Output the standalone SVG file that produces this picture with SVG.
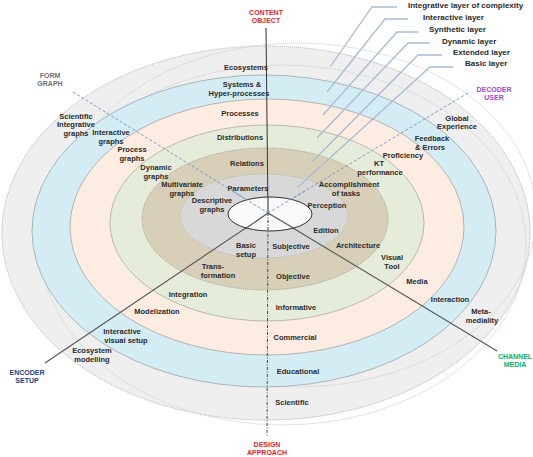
<svg xmlns="http://www.w3.org/2000/svg" width="533" height="457" viewBox="0 0 533 457">
<style>
.lbl{font-family:"Liberation Sans Narrow","Liberation Sans",Arial,sans-serif;font-weight:bold;font-size:7.5px;fill:#2a2a2a;text-anchor:middle}
.lay{font-family:"Liberation Sans Narrow","Liberation Sans",Arial,sans-serif;font-weight:bold;font-size:8px;fill:#2a2a2a;text-anchor:start}
.ax{font-family:"Liberation Sans Narrow","Liberation Sans",Arial,sans-serif;font-weight:bold;font-size:7px;text-anchor:middle}
.faint{fill:none;stroke:#d6d6d6;stroke-width:0.7}
.lead{fill:none;stroke:#a9bcd6;stroke-width:1.3}
.dash{stroke:#6f93c0;stroke-width:0.9;stroke-dasharray:3 2;fill:none}
</style>
<rect width="533" height="457" fill="#ffffff"/>
<g id="rings">
<g id="ring-ecosystems"><ellipse cx="266" cy="233" rx="264" ry="187" fill="#efefef" stroke="#9a9a9a" stroke-width="0.8" stroke-dasharray="1 1"/></g>
<ellipse class="faint" cx="283" cy="245" rx="243" ry="180"/>
<ellipse class="faint" cx="298" cy="215" rx="238" ry="172"/>
<g id="ring-systems"><ellipse cx="264" cy="231" rx="232" ry="156" fill="#d4edf5" stroke="#9aa4a8" stroke-width="0.8"/></g>
<g id="ring-processes"><ellipse cx="267" cy="227" rx="197" ry="128" fill="#fcece2" stroke="#a8a39e" stroke-width="0.8"/></g>
<g id="ring-distributions"><ellipse cx="267" cy="223" rx="157" ry="98" fill="#e6ecda" stroke="#a9ab9e" stroke-width="0.8"/></g>
<g id="ring-relations"><ellipse cx="265" cy="219" rx="123" ry="71" fill="#d8cfb9" stroke="#8f8a7c" stroke-width="0.8" stroke-dasharray="1 1"/></g>
<g id="ring-parameters"><ellipse cx="264" cy="216" rx="84" ry="42" fill="#d8d8d8" stroke="#b4b4b4" stroke-width="0.8" stroke-dasharray="1 1"/></g>
</g>
<g id="connectors">
<line x1="266" y1="28" x2="268" y2="213" stroke="#333" stroke-width="1"/>
<line x1="268" y1="213" x2="267" y2="437" stroke="#333" stroke-width="0.9" stroke-dasharray="3 1.5 1 1.5"/>
<line class="dash" x1="73" y1="92" x2="268" y2="213"/>
<line class="dash" x1="468" y1="93" x2="268" y2="213"/>
<line x1="268" y1="213" x2="45" y2="363" stroke="#555" stroke-width="1.1"/>
<line x1="268" y1="213" x2="497" y2="351" stroke="#555" stroke-width="1.1"/>
<polyline class="lead" points="397,7 372,7 330,67"/>
<polyline class="lead" points="408,19 385,19 327,92"/>
<polyline class="lead" points="418,32 397,32 323,115"/>
<polyline class="lead" points="430,43 408,43 317,138"/>
<polyline class="lead" points="442,55 418,55 312,162"/>
<polyline class="lead" points="453,67 430,67 298,187"/>
</g>
<g id="center"><ellipse cx="270" cy="214" rx="42" ry="17" fill="#ffffff" fill-opacity="0.85" stroke="#333" stroke-width="1"/>
<line x1="268" y1="197" x2="268" y2="213" stroke="#333" stroke-width="1"/>
<line x1="268" y1="213" x2="245" y2="229" stroke="#555" stroke-width="1.1"/>
<line x1="268" y1="213" x2="295" y2="229" stroke="#555" stroke-width="1.1"/>
<line class="dash" x1="232" y1="191" x2="268" y2="213"/>
<line class="dash" x1="268" y1="213" x2="305" y2="191"/>
<line x1="268" y1="213" x2="268" y2="231" stroke="#333" stroke-width="0.9" stroke-dasharray="3 1.5 1 1.5"/>
</g>
<g id="labels-ecosystems">
<text class="lbl" x="246" y="70">Ecosystems</text>
<text class="lbl" x="76" y="119">Scientific</text><text class="lbl" x="76" y="127">Integrative</text><text class="lbl" x="76" y="135.5">graphs</text>
<text class="lbl" x="457" y="120.5">Global</text><text class="lbl" x="457" y="129">Experience</text>
<text class="lbl" x="92" y="353">Ecosystem</text><text class="lbl" x="92" y="361.5">modelling</text>
<text class="lbl" x="481" y="314">Meta-</text><text class="lbl" x="482" y="322.5">mediality</text>
<text class="lbl" x="292" y="405">Scientific</text>
</g>
<g id="labels-systems">
<text class="lbl" x="242" y="87">Systems &amp;</text><text class="lbl" x="239" y="95.5">Hyper-processes</text>
<text class="lbl" x="111" y="135">Interactive</text><text class="lbl" x="111" y="143.5">graphs</text>
<text class="lbl" x="432" y="141">Feedback</text><text class="lbl" x="430" y="149.5">&amp; Errors</text>
<text class="lbl" x="122" y="334">Interactive</text><text class="lbl" x="126" y="342.5">visual setup</text>
<text class="lbl" x="450" y="302">Interaction</text>
<text class="lbl" x="298" y="374">Educational</text>
</g>
<g id="labels-processes">
<text class="lbl" x="240" y="116">Processes</text>
<text class="lbl" x="132" y="152">Process</text><text class="lbl" x="132" y="160.5">graphs</text>
<text class="lbl" x="403" y="158">Proficiency</text>
<text class="lbl" x="157" y="314">Modelization</text>
<text class="lbl" x="417" y="284">Media</text>
<text class="lbl" x="295" y="340">Commercial</text>
</g>
<g id="labels-distributions">
<text class="lbl" x="240" y="140">Distributions</text>
<text class="lbl" x="156" y="170">Dynamic</text><text class="lbl" x="156" y="178.5">graphs</text>
<text class="lbl" x="379" y="166">KT</text><text class="lbl" x="380" y="174.5">performance</text>
<text class="lbl" x="188" y="297">Integration</text>
<text class="lbl" x="392" y="260">Visual</text><text class="lbl" x="392" y="268.5">Tool</text>
<text class="lbl" x="296" y="310">Informative</text>
</g>
<g id="labels-relations">
<text class="lbl" x="247" y="166">Relations</text>
<text class="lbl" x="182" y="187">Multivariate</text><text class="lbl" x="182" y="195.5">graphs</text>
<text class="lbl" x="349" y="187">Accomplishment</text><text class="lbl" x="346" y="195.5">of tasks</text>
<text class="lbl" x="213" y="269">Trans-</text><text class="lbl" x="218" y="277.5">formation</text>
<text class="lbl" x="358" y="248">Architecture</text>
<text class="lbl" x="293" y="279">Objective</text>
</g>
<g id="labels-parameters">
<text class="lbl" x="248" y="191">Parameters</text>
<text class="lbl" x="212" y="203">Descriptive</text><text class="lbl" x="212" y="211.5">graphs</text>
<text class="lbl" x="327" y="208">Perception</text>
<text class="lbl" x="326" y="233">Edition</text>
<text class="lbl" x="246" y="248">Basic</text><text class="lbl" x="246" y="256.5">setup</text>
<text class="lbl" x="291" y="249">Subjective</text>
</g>
<g id="layer-labels">
<text class="lay" x="408" y="8">Integrative layer of complexity</text>
<text class="lay" x="423" y="20">Interactive layer</text>
<text class="lay" x="429" y="32">Synthetic layer</text>
<text class="lay" x="442" y="44">Dynamic layer</text>
<text class="lay" x="453" y="55">Extended layer</text>
<text class="lay" x="465" y="66">Basic layer</text>
</g>
<g id="axis-content"><text class="ax" x="266" y="14.5" fill="#e0262e">CONTENT</text><text class="ax" x="266" y="22.5" fill="#e0262e">OBJECT</text></g>
<g id="axis-form"><text class="ax" x="50" y="78" fill="#707070">FORM</text><text class="ax" x="50" y="86" fill="#707070">GRAPH</text></g>
<g id="axis-decoder"><text class="ax" x="494" y="91.5" fill="#a44ac8">DECODER</text><text class="ax" x="494" y="99.5" fill="#a44ac8">USER</text></g>
<g id="axis-encoder"><text class="ax" x="27" y="374.5" fill="#233f8c">ENCODER</text><text class="ax" x="27" y="382.5" fill="#233f8c">SETUP</text></g>
<g id="axis-channel"><text class="ax" x="515" y="358.5" fill="#00b36b">CHANNEL</text><text class="ax" x="515" y="366.5" fill="#00b36b">MEDIA</text></g>
<g id="axis-design"><text class="ax" x="267" y="447" fill="#e0262e">DESIGN</text><text class="ax" x="267" y="455" fill="#e0262e">APPROACH</text></g>
</svg>
